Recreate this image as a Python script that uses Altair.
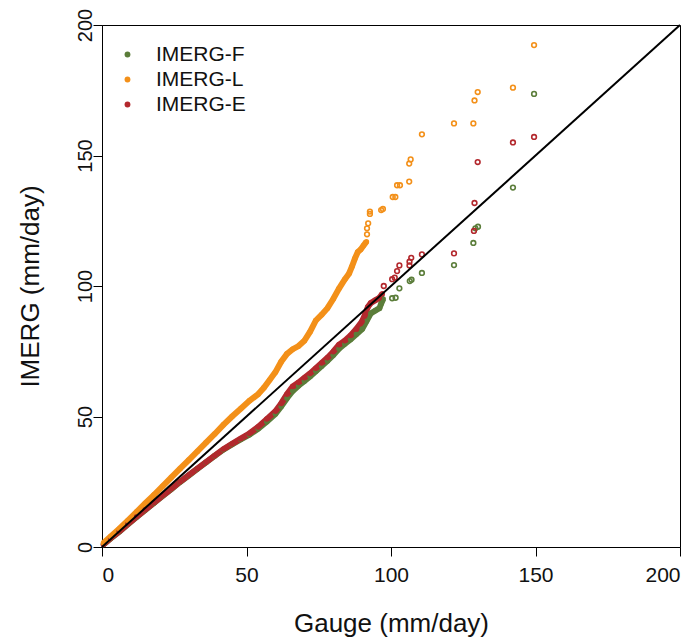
import altair as alt
import pandas as pd

series_names = ["IMERG-F", "IMERG-L", "IMERG-E"]
series_colors = ["#5b7d3a", "#f39019", "#b3282d"]
color_of = dict(zip(series_names, series_colors))

# 1:1 reference line
ref_x = [0, 200]
ref_y = [0, 200]

# Dense (overlapping) quantile region
f_dense_x = [0.5, 3, 6, 9, 12, 15, 18, 21, 24, 27, 30, 33, 36, 39, 42, 45, 48, 51, 54, 57, 60, 62, 64, 66, 68, 70, 72, 74, 76, 78, 80, 82, 84, 86, 88, 90, 91.5, 93, 94.5, 96, 96.5, 97.3]
f_dense_y = [1, 3.3, 5.9, 8.7, 11.5, 14.2, 16.9, 19.6, 22.2, 24.9, 27.4, 29.9, 32.4, 34.9, 37.3, 39.3, 41.2, 43, 45.3, 48, 51, 53.8, 57, 59.8, 61.8, 63.5, 65.3, 67.3, 69.3, 71.3, 73.5, 76, 77.8, 79.5, 81.5, 83.5, 86.5, 89.5, 90.5, 91.5, 93, 95]

l_dense_x = [0.5, 3, 6, 9, 12, 15, 18, 21, 24, 27, 30, 33, 36, 39, 42, 45, 48, 51, 54, 56, 58, 60, 62, 64, 66, 68, 70, 72, 74, 76, 78, 80, 82, 84, 85.5, 86.5, 87.5, 88.5, 89.5, 90.5, 91.5]
l_dense_y = [1.5, 4, 7, 10.2, 13.5, 16.8, 20, 23.3, 26.7, 30, 33.3, 36.6, 40, 43.3, 46.8, 50, 53, 56, 58.5, 61, 64, 67, 71, 74, 75.8, 77, 79, 82.5, 86.8, 89, 91.5, 95, 99, 102.5, 104.8, 107.5, 110.5, 113, 114, 115.5, 117]

e_dense_x = [0.5, 3, 6, 9, 12, 15, 18, 21, 24, 27, 30, 33, 36, 39, 42, 45, 48, 51, 54, 57, 60, 62, 64, 66, 68, 70, 72, 74, 76, 78, 80, 82, 84, 86, 88, 90, 91, 92, 93, 94.5, 96, 97]
e_dense_y = [1, 3.4, 6, 8.8, 11.6, 14.3, 17, 19.7, 22.3, 25, 27.5, 30, 32.5, 35, 37.5, 39.5, 41.5, 43.5, 46, 49, 52, 55, 58.5, 61.5, 63, 64.8, 66.5, 68.5, 70.5, 72.5, 74.8, 77.5, 79, 81, 83.5, 86.5, 89, 92, 93.5, 94.5, 95.5, 97]

# Sparse upper-tail quantiles
f_sparse_x = [100.4, 101.6, 102.9, 106.5, 107.1, 110.7, 121.8, 128.5, 129.2, 130.1, 142.2, 149.5]
f_sparse_y = [95.3, 95.5, 99.1, 101.9, 102.4, 105.0, 108.0, 116.5, 122.1, 122.7, 137.7, 173.6]

l_sparse_x = [91.7, 91.7, 92.1, 92.7, 92.7, 96.6, 97.2, 100.6, 101.5, 102.1, 103.1, 106.3, 106.3, 106.8, 110.7, 121.8, 128.5, 128.9, 130.0, 142.2, 149.5]
l_sparse_y = [119.8, 122.1, 124.0, 127.6, 128.5, 129.1, 129.5, 134.1, 134.1, 138.6, 138.6, 140.0, 146.9, 148.5, 158.1, 162.3, 162.3, 171.1, 174.3, 176.0, 192.3]

e_sparse_x = [97.5, 100.4, 101.3, 102.1, 102.9, 106.4, 106.4, 107.0, 110.7, 121.8, 128.7, 128.9, 130.0, 142.2, 149.5]
e_sparse_y = [100.0, 102.6, 103.2, 105.7, 107.9, 107.9, 109.3, 110.8, 112.1, 112.5, 121.1, 131.8, 147.5, 155.0, 157.1]


def frame(name, xs, ys):
    return pd.DataFrame({"series": name, "x": xs, "y": ys})


dense = {
    "IMERG-F": frame("IMERG-F", f_dense_x, f_dense_y),
    "IMERG-L": frame("IMERG-L", l_dense_x, l_dense_y),
    "IMERG-E": frame("IMERG-E", e_dense_x, e_dense_y),
}
sparse = {
    "IMERG-F": frame("IMERG-F", f_sparse_x, f_sparse_y),
    "IMERG-L": frame("IMERG-L", l_sparse_x, l_sparse_y),
    "IMERG-E": frame("IMERG-E", e_sparse_x, e_sparse_y),
}
draw_order = ["IMERG-F", "IMERG-E", "IMERG-L"]

xscale = alt.Scale(domain=[0, 200], nice=False, zero=False)
yscale = alt.Scale(domain=[0, 200], nice=False, zero=False)
cscale = alt.Scale(domain=series_names, range=series_colors)

xaxis = alt.Axis(values=[0, 50, 100, 150, 200], title="Gauge (mm/day)", grid=False,
                 tickSize=9, labelPadding=8, labelFontSize=21,
                 titleBaseline="alphabetic", titleY=84)
yaxis = alt.Axis(values=[0, 50, 100, 150, 200], title="IMERG (mm/day)", grid=False,
                 tickSize=9, labelPadding=2, labelFontSize=20, labelAngle=270,
                 labelAlign="center", labelBaseline="alphabetic",
                 titleBaseline="alphabetic", titleAngle=270, titleAlign="center",
                 titleX=-64, titleY=261)

layers = []
# thick bands of overlapping quantile circles
for name in draw_order:
    layers.append(
        alt.Chart(dense[name]).mark_line(strokeWidth=6, color=color_of[name]).encode(
            x=alt.X("x:Q", scale=xscale, axis=xaxis),
            y=alt.Y("y:Q", scale=yscale, axis=yaxis),
        )
    )

# dense circles (also carry the legend)
dense_all = pd.concat([dense[n] for n in draw_order], ignore_index=True)
layers.append(
    alt.Chart(dense_all).mark_circle(size=30, opacity=1).encode(
        x="x:Q", y="y:Q",
        color=alt.Color(
            "series:N", scale=cscale, sort=series_names,
            legend=alt.Legend(
                title=None, orient="none", legendX=15, legendY=19, padding=0,
                labelFontSize=21, symbolSize=34, symbolType="circle",
                rowPadding=3, symbolStrokeWidth=0, labelOffset=18,
            ),
        ),
        order=alt.Order("ord:Q"),
    ).transform_calculate(ord="datum.series == 'IMERG-F' ? 0 : (datum.series == 'IMERG-E' ? 1 : 2)")
)

# sparse open circles in the upper tail
for name in draw_order:
    layers.append(
        alt.Chart(sparse[name]).mark_point(size=22, filled=False, strokeWidth=1.6, opacity=1,
                                           color=color_of[name]).encode(
            x="x:Q", y="y:Q",
        )
    )

ref = alt.Chart(pd.DataFrame({"x": ref_x, "y": ref_y})).mark_line(color="black", strokeWidth=2).encode(
    x="x:Q", y="y:Q"
)
layers.append(ref)

chart = alt.layer(*layers).properties(
    width=578, height=522,
    autosize=alt.AutoSizeParams(type="none"),
    padding={"left": 94, "top": 17, "right": 11, "bottom": 92},
).configure(
    font="Liberation Sans",
).configure_axis(
    titleFontSize=26, titleFontWeight="normal",
    labelColor="#111111", titleColor="#111111",
    domainColor="black", tickColor="black", domainWidth=1, tickWidth=1,
).configure_view(
    stroke="black", strokeWidth=1,
).configure_legend(
    labelFont="Liberation Sans", labelColor="#111111",
)

chart.save("out.html", embed_options={"renderer": "svg", "actions": False})
